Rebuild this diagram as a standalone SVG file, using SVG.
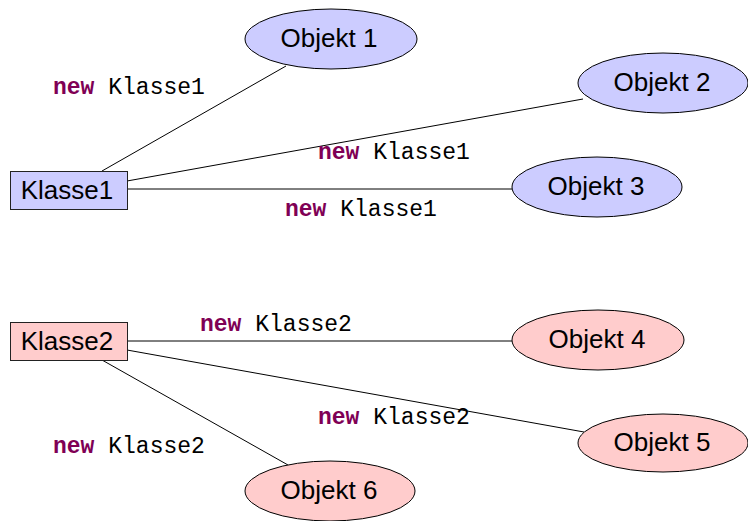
<svg xmlns="http://www.w3.org/2000/svg" width="748" height="521" viewBox="0 0 748 521">
  <style>
    .cls rect { stroke: #222; stroke-width: 1; }
    .c1 rect, .c1 ellipse { fill: #ccccff; }
    .c2 rect, .c2 ellipse { fill: #ffcccc; }
    ellipse { stroke: #000; stroke-width: 1; }
    .lbl { font-family: "Liberation Sans", Arial, sans-serif; font-size: 26px; fill: #000; text-anchor: middle; }
    .code { font-family: "Liberation Mono", "DejaVu Sans Mono", monospace; font-size: 23px; fill: #000; }
    .kw { font-weight: bold; fill: #7f0055; }
    #edges line { stroke: #000; stroke-width: 1; }
  </style>

  <!-- connectors -->
  <g id="edges">
    <line x1="102" y1="171" x2="286" y2="66"/>
    <line x1="127" y1="181" x2="583" y2="99"/>
    <line x1="127" y1="189" x2="512" y2="189"/>
    <line x1="127" y1="341" x2="512" y2="341"/>
    <line x1="127" y1="350" x2="584" y2="432"/>
    <line x1="102" y1="360" x2="288" y2="465"/>
  </g>

  <!-- edge labels -->
  <g id="labels">
    <text class="code" x="53" y="94"><tspan class="kw">new</tspan> Klasse1</text>
    <text class="code" x="318" y="159"><tspan class="kw">new</tspan> Klasse1</text>
    <text class="code" x="285" y="216"><tspan class="kw">new</tspan> Klasse1</text>
    <text class="code" x="200" y="331"><tspan class="kw">new</tspan> Klasse2</text>
    <text class="code" x="318" y="424"><tspan class="kw">new</tspan> Klasse2</text>
    <text class="code" x="53" y="453"><tspan class="kw">new</tspan> Klasse2</text>
  </g>

  <!-- classes -->
  <g id="klasse1" class="cls c1">
    <rect x="10.5" y="171.5" width="117" height="38"/>
    <text class="lbl" x="67" y="199">Klasse1</text>
  </g>
  <g id="klasse2" class="cls c2">
    <rect x="10.5" y="322.5" width="117" height="38"/>
    <text class="lbl" x="67" y="350">Klasse2</text>
  </g>

  <!-- objects -->
  <g id="objekt1" class="c1">
    <ellipse cx="331" cy="39" rx="86" ry="30"/>
    <text class="lbl" x="329" y="47">Objekt 1</text>
  </g>
  <g id="objekt2" class="c1">
    <ellipse cx="663" cy="83" rx="85" ry="30"/>
    <text class="lbl" x="662" y="91">Objekt 2</text>
  </g>
  <g id="objekt3" class="c1">
    <ellipse cx="597" cy="187" rx="85" ry="30"/>
    <text class="lbl" x="596" y="195">Objekt 3</text>
  </g>
  <g id="objekt4" class="c2">
    <ellipse cx="598" cy="340" rx="86" ry="30"/>
    <text class="lbl" x="597" y="348">Objekt 4</text>
  </g>
  <g id="objekt5" class="c2">
    <ellipse cx="663" cy="443" rx="85" ry="29"/>
    <text class="lbl" x="662" y="451">Objekt 5</text>
  </g>
  <g id="objekt6" class="c2">
    <ellipse cx="330" cy="491" rx="85" ry="30"/>
    <text class="lbl" x="329" y="499">Objekt 6</text>
  </g>
</svg>
